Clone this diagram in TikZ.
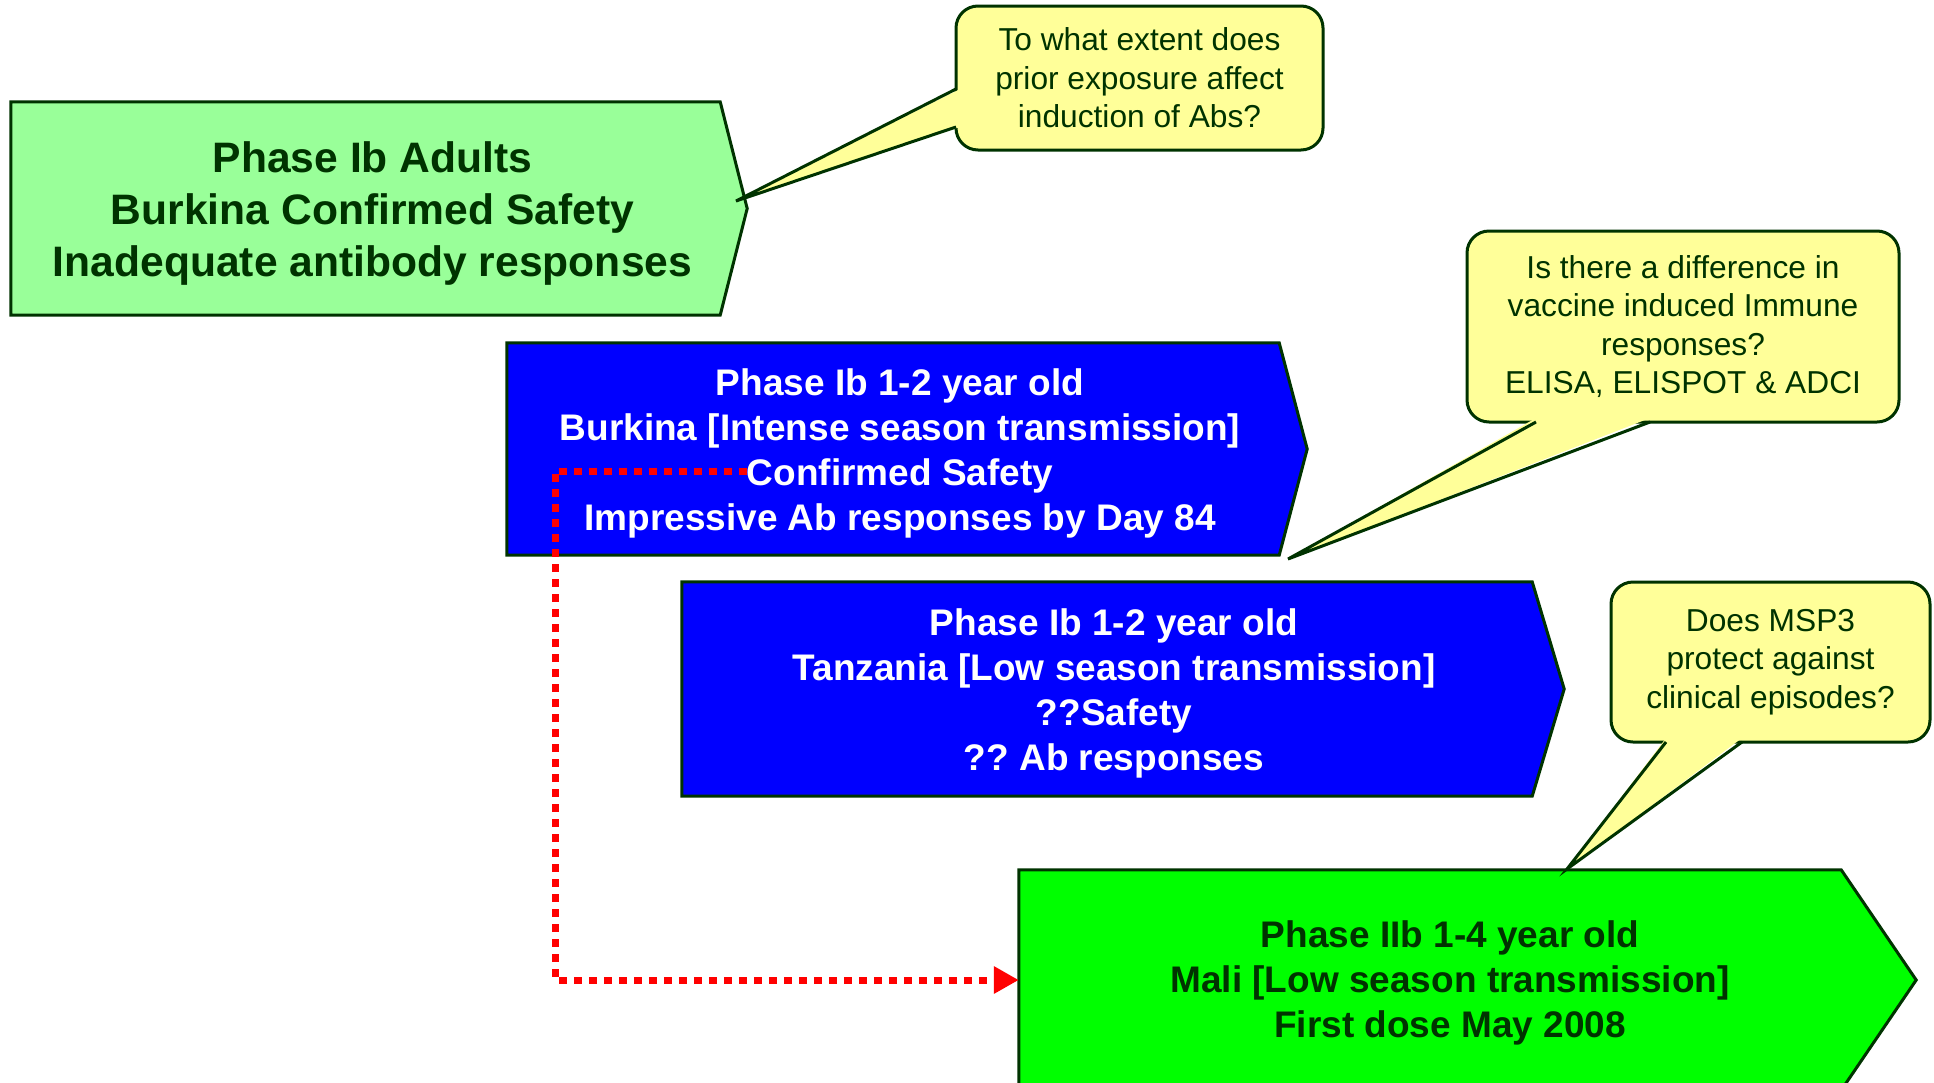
\documentclass[tikz,border=0pt]{standalone}
\usepackage{fontspec}
\setmainfont{Liberation Sans}
\usetikzlibrary{arrows.meta,backgrounds}
\definecolor{paleGreen}{HTML}{99FF99}
\definecolor{brightGreen}{HTML}{00FF00}
\definecolor{pureBlue}{HTML}{0000FF}
\definecolor{noteYellow}{HTML}{FFFF99}
\definecolor{edgeGreen}{HTML}{003300}
\frenchspacing
\begin{document}
\begin{tikzpicture}[x=1pt,y=-1pt,
	phase/.style={inner sep=0pt},
	phasetext/.style={inner sep=0pt, align=center, font=\fontsize{37}{45}\selectfont\bfseries},
	note/.style={draw=edgeGreen, line width=3pt, fill=noteYellow, rounded corners=22pt, inner sep=0pt, align=center, text=edgeGreen, font=\fontsize{31.7}{38.6}\selectfont},
	outline/.style={draw=edgeGreen, line width=3pt, line join=miter},
	link/.style={red, line width=7pt, dash pattern=on 8pt off 7pt, -{Triangle[length=25pt,width=26pt]}}]
		\useasboundingbox (0,0) rectangle (1934,1082);
		% trial phases
		\node[phase, minimum width=709pt, minimum height=213pt] (adults) at (365.5,208.5){};
		\node[phase, minimum width=772pt, minimum height=212pt] (burkina) at (893,449){};
		\node[phase, minimum width=850pt, minimum height=214pt] (tanzania) at (1107,689){};
		\node[phase, minimum width=822pt, minimum height=220pt] (mali) at (1430,980){};
		\begin{pgfonlayer}{background}
		\foreach \n/\d/\c in {adults/27/paleGreen,burkina/28/pureBlue,tanzania/32/pureBlue,mali/75/brightGreen}{
			\filldraw[outline, fill=\c] (\n.north west) -- (\n.north east) -- ([xshift=\d pt]\n.east) -- (\n.south east) -- (\n.south west) -- cycle;
		}
		\end{pgfonlayer}
		\node[phasetext, text=edgeGreen, font=\fontsize{42.6}{52}\selectfont\bfseries] (adultsText) at ([xshift=7pt,yshift=-5pt]adults.center){Phase Ib Adults\\Burkina Confirmed Safety\\Inadequate antibody responses};
		\node[phasetext, text=white] (burkinaText) at ([xshift=7pt,yshift=-4pt]burkina.center){Phase Ib 1-2 year old\\Burkina [Intense season transmission]\\Confirmed Safety\\Impressive Ab responses by Day 84};
		\node[phasetext, text=white] (tanzaniaText) at ([xshift=7pt,yshift=-4pt]tanzania.center){Phase Ib 1-2 year old\\Tanzania [Low season transmission]\\??Safety\\?? Ab responses};
		\node[phasetext, text=edgeGreen] (maliText) at ([xshift=20pt,yshift=-3pt]mali.center){Phase IIb 1-4 year old\\Mali [Low season transmission]\\First dose May 2008};
		% questions
		\node[note, minimum width=367pt, minimum height=144pt] (exposure) at (1139.5,78){To what extent does\\prior exposure affect\\induction of Abs?};
		\node[note, minimum width=432pt, minimum height=191pt] (difference) at (1683,326.5){Is there a difference in\\vaccine induced Immune\\responses?\\ELISA, ELISPOT \& ADCI};
		\node[note, minimum width=319pt, minimum height=160pt] (protect) at (1770.5,662){Does MSP3\\protect against\\clinical episodes?};
		\coordinate (exposureTip) at (736,201);
		\coordinate (differenceTip) at (1288,559);
		\coordinate (protectTip) at (1567,869);
		\fill[noteYellow] (960,89) -- (exposureTip) -- (960,127) -- cycle;
		\draw[outline] (956,89) -- (exposureTip) -- (956,127);
		\fill[noteYellow] (1536,418) -- (differenceTip) -- (1650,418) -- cycle;
		\draw[outline] (1536,422) -- (differenceTip) -- (1650,422);
		\fill[noteYellow] (1666,738) -- (protectTip) -- (1742,738) -- cycle;
		\draw[outline] (1666,742) -- (protectTip) -- (1742,742);
		% safety link
		\coordinate (start) at (747,471);
		\coordinate (bend) at (555,471);
		\draw[link] (start) -- (bend) |- (mali.west);
		\end{tikzpicture}
\end{document}
